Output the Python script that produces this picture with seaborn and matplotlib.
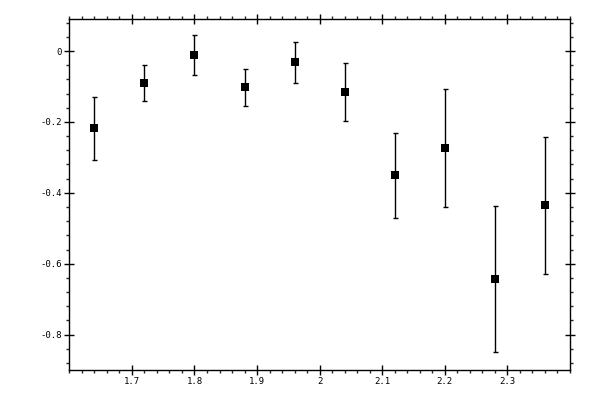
import numpy as np
import pandas as pd
import matplotlib
matplotlib.use("Agg")
import matplotlib.pyplot as plt
import seaborn as sns
from matplotlib.ticker import MultipleLocator

# data
x_vals = [1.64, 1.72, 1.80, 1.88, 1.96, 2.04, 2.12, 2.20, 2.28, 2.36]
y_vals = [-0.218, -0.091, -0.012, -0.102, -0.032, -0.116, -0.350, -0.273, -0.643, -0.435]
y_err = [0.089, 0.051, 0.056, 0.052, 0.059, 0.081, 0.120, 0.166, 0.207, 0.193]

df = pd.DataFrame({"x": x_vals, "y": y_vals, "err": y_err})

sns.set_style("ticks")
plt.rcParams["font.family"] = ["DejaVu Sans Mono", "DejaVu Sans"]

fig = plt.figure(figsize=(6, 4), dpi=100)
ax = fig.add_axes([0.1155, 0.075, 0.8345, 0.877])

# error bars first, then square markers on top
ax.errorbar(df["x"], df["y"], yerr=df["err"], fmt="none", ecolor="black",
            elinewidth=1.0, capsize=1.8, capthick=1.0, zorder=2)
sns.scatterplot(data=df, x="x", y="y", marker="s", color="black", s=26,
                edgecolor="black", linewidth=0, ax=ax, zorder=3, legend=False)

ax.set_xlim(1.6, 2.4)
ax.set_ylim(-0.9, 0.09)
ax.xaxis.set_major_locator(MultipleLocator(0.1))
ax.xaxis.set_minor_locator(MultipleLocator(0.02))
ax.yaxis.set_major_locator(MultipleLocator(0.2))
ax.yaxis.set_minor_locator(MultipleLocator(0.04))
ax.set_xticks([1.7, 1.8, 1.9, 2.0, 2.1, 2.2, 2.3])
ax.set_xticklabels(["1.7", "1.8", "1.9", "2", "2.1", "2.2", "2.3"])
ax.set_yticks([0, -0.2, -0.4, -0.6, -0.8])
ax.set_yticklabels(["0", "-0.2", "-0.4", "-0.6", "-0.8"])

for side in ["top", "right", "left", "bottom"]:
    ax.spines[side].set_visible(True)
    ax.spines[side].set_linewidth(1.0)
    ax.spines[side].set_color("black")

ax.tick_params(which="major", direction="inout", length=6.5, width=1.0,
               top=True, right=True, labelsize=6.5, colors="black", pad=2)
ax.tick_params(which="minor", direction="out", length=2.5, width=1.0,
               top=True, right=True)
ax.set_xlabel("")
ax.set_ylabel("")

fig.savefig("out.png", dpi=100)
